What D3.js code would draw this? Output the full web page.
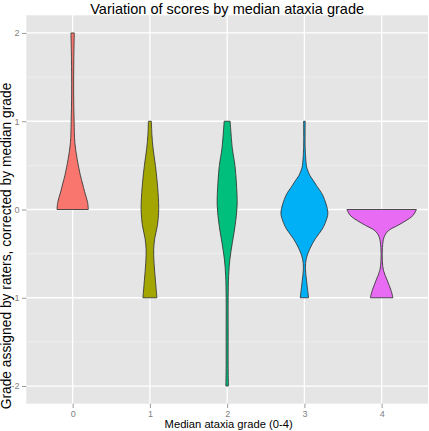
<!DOCTYPE html>
<html>
<head>
<meta charset="utf-8">
<script src="https://cdn.jsdelivr.net/npm/d3@7"></script>
<style>
html,body{margin:0;padding:0;background:#fff;}
svg{display:block;}
text{font-family:"Liberation Sans",Arial,sans-serif;}
</style>
</head>
<body>
<svg id="chart" width="429" height="431"></svg>
<script>
// ---- data ----
const categories = ["0", "1", "2", "3", "4"];
const colors = ["#F8766D", "#A3A500", "#00BF7D", "#00B0F6", "#E76BF3"];
const yTicks = [-2, -1, 0, 1, 2];
const yMinor = [-1.5, -0.5, 0.5, 1.5];

// violin density profiles: score values and relative density (max = 100)
const score0 = [0, 0.08, 0.2, 0.3, 0.385, 0.57, 0.76, 0.99, 1.33, 1.71, 2.0];
const dens0  = [45, 43, 34.5, 28, 22.4, 13, 6.3, 4.3, 2.9, 3.4, 4.9];

const score1 = [-1.0, -0.8, -0.6, -0.45, -0.33, -0.18, -0.03, 0.08, 0.31, 0.5, 0.69, 0.85, 1.0];
const dens1  = [20.1, 15.8, 11.8, 10.9, 13.8, 21.6, 25, 25, 21, 15.8, 9.2, 5.7, 4.3];

const score2 = [-2.0, -1.77, -1.4, -1.0, -0.75, -0.56, -0.37, -0.18, 0.05, 0.31, 0.5, 0.69, 1.0];
const dens2  = [3.7, 2.9, 2.9, 2.9, 4.3, 8, 15.2, 23, 28.7, 26.4, 22.4, 15, 8.6];

const score3 = [-1.0, -0.82, -0.67, -0.56, -0.45, -0.33, -0.22, -0.1, -0.03, 0.16, 0.27, 0.33, 0.385, 0.46, 0.5, 0.69, 1.0];
const dens3  = [12, 6.6, 2.9, 5.2, 15, 31.6, 51.7, 64.7, 67.5, 53, 35, 25.3, 15.8, 8, 5.7, 2.3, 2.3];

const score4 = [-1.0, -0.92, -0.8, -0.69, -0.58, -0.43, -0.31, -0.24, -0.18, -0.125, -0.07, 0];
const dens4  = [32.5, 27.3, 15.8, 5.2, 2.0, 2.3, 7.2, 19.5, 46.6, 70.4, 89.7, 100];

const scores = [score0, score1, score2, score3, score4];
const densities = [dens0, dens1, dens2, dens3, dens4];

const title = "Variation of scores by median ataxia grade";
const xTitle = "Median ataxia grade (0-4)";
const yTitle = "Grade assigned by raters, corrected by median grade";

// ---- layout ----
const W = 429, H = 431;
const margin = {left: 26.3, right: 1, top: 15.3, bottom: 27.3};
const svg = d3.select("#chart");

const x = d3.scalePoint().domain(categories).range([margin.left, W - margin.right]).padding(0.6);
const y = d3.scaleLinear().domain([-2.2, 2.2]).range([H - margin.bottom, margin.top]);
const maxDens = d3.max(densities.flat());
const halfW = d3.scaleLinear().domain([0, maxDens]).range([0, 0.45 * x.step()]);

// panel
svg.append("rect")
  .attr("x", margin.left).attr("y", margin.top)
  .attr("width", W - margin.right - margin.left)
  .attr("height", H - margin.bottom - margin.top)
  .attr("fill", "#E5E5E5");

const grid = svg.append("g");
grid.selectAll("line.minor").data(yMinor).join("line")
  .attr("x1", margin.left).attr("x2", W - margin.right)
  .attr("y1", d => y(d)).attr("y2", d => y(d))
  .attr("stroke", "#F2F2F2").attr("stroke-width", 0.7);
grid.selectAll("line.majy").data(yTicks).join("line")
  .attr("x1", margin.left).attr("x2", W - margin.right)
  .attr("y1", d => y(d)).attr("y2", d => y(d))
  .attr("stroke", "#FFFFFF").attr("stroke-width", 1.3);
grid.selectAll("line.majx").data(categories).join("line")
  .attr("x1", d => x(d)).attr("x2", d => x(d))
  .attr("y1", margin.top).attr("y2", H - margin.bottom)
  .attr("stroke", "#FFFFFF").attr("stroke-width", 1.3);

// violins
categories.forEach((c, i) => {
  const pts = scores[i].map((s, j) => ({s: s, d: densities[i][j]}));
  const area = d3.area()
    .y(p => y(p.s))
    .x0(p => x(c) - halfW(p.d))
    .x1(p => x(c) + halfW(p.d))
    .curve(d3.curveCatmullRom.alpha(0.5));
  svg.append("path")
    .datum(pts)
    .attr("d", area)
    .attr("fill", colors[i])
    .attr("stroke", "#333333")
    .attr("stroke-width", 0.85)
    .attr("stroke-linejoin", "round");
});

// axes
const yAxis = svg.append("g")
  .attr("transform", `translate(${margin.left},0)`)
  .call(d3.axisLeft(y).tickValues(yTicks).tickSize(4.3).tickPadding(2.5).tickFormat(d3.format("d")));
const xAxis = svg.append("g")
  .attr("transform", `translate(0,${H - margin.bottom})`)
  .call(d3.axisBottom(x).tickSize(4.3).tickPadding(2.5));
[yAxis, xAxis].forEach(a => {
  a.select(".domain").remove();
  a.selectAll(".tick line").attr("stroke", "#7F7F7F").attr("stroke-width", 0.8);
  a.selectAll(".tick text").attr("fill", "#7F7F7F").style("font-size", "9px")
    .style("font-family", "'Liberation Sans', Arial, sans-serif");
});
yAxis.selectAll(".tick text").text(d => d < 0 ? "-" + Math.abs(d) : String(d));

// titles
const cx = (margin.left + W - margin.right) / 2;
svg.append("text").attr("x", cx).attr("y", 13.5)
  .attr("text-anchor", "middle").attr("fill", "#000")
  .style("font-size", "14.5px").text(title);
svg.append("text").attr("x", cx + 1.5).attr("y", 427.5)
  .attr("text-anchor", "middle").attr("fill", "#000")
  .style("font-size", "11.2px").text(xTitle);
svg.append("text")
  .attr("transform", `translate(10.5,246) rotate(-90)`)
  .attr("text-anchor", "middle").attr("fill", "#000")
  .style("font-size", "13.8px").text(yTitle);
</script>
</body>
</html>
